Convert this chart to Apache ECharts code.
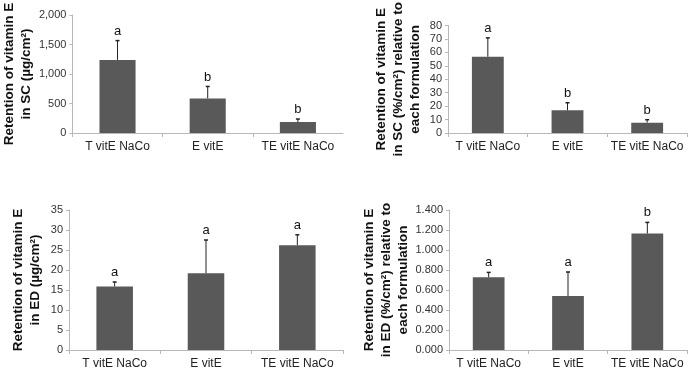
<!DOCTYPE html>
<html><head><meta charset="utf-8">
<script src="https://cdn.jsdelivr.net/npm/echarts@6/dist/echarts.min.js"></script>
<style>html,body{margin:0;padding:0;background:#fff}#c{width:688px;height:370px}</style>
</head><body><div id="c"></div>
<script>
const categories = ['T vitE NaCo', 'E vitE', 'TE vitE NaCo'];
const scMass = [1239, 586, 186];
const scMassErr = [327, 203, 51];
const scMassLetters = ['a', 'b', 'b'];
const scPct = [56.8, 16.9, 7.7];
const scPctErr = [14.0, 5.6, 2.2];
const scPctLetters = ['a', 'b', 'b'];
const edMass = [15.9, 19.2, 26.2];
const edMassErr = [1.1, 8.3, 2.6];
const edMassLetters = ['a', 'a', 'a'];
const edPct = [0.727, 0.541, 1.165];
const edPctErr = [0.049, 0.239, 0.111];
const edPctLetters = ['a', 'a', 'b'];

const FONT = 'Liberation Sans, Arial, sans-serif';
const panels = [
  {vals: scMass, errs: scMassErr, letters: scMassLetters, max: 2000, interval: 500,
   fmt: v => v.toLocaleString('en-US'), name: 'Retention of vitamin E\nin SC (µg/cm²)',
   grid: {left: 69, right: 345, top: 15, bottom: 237}, gap: 37},
  {vals: scPct, errs: scPctErr, letters: scPctLetters, max: 80, interval: 10,
   fmt: v => String(v), name: 'Retention of vitamin E\nin SC (%/cm²) relative to\neach formulation',
   grid: {left: 448, right: 1, top: 15, bottom: 237}, gap: 24},
  {vals: edMass, errs: edMassErr, letters: edMassLetters, max: 35, interval: 5,
   fmt: v => String(v), name: 'Retention of vitamin E\nin ED (µg/cm²)',
   grid: {left: 69, right: 345, top: 210, bottom: 17}, gap: 25},
  {vals: edPct, errs: edPctErr, letters: edPctLetters, max: 1.4, interval: 0.2,
   fmt: v => v.toFixed(3), name: 'Retention of vitamin E\nin ED (%/cm²) relative to\neach formulation',
   grid: {left: 449, right: 1, top: 210, bottom: 17}, gap: 36}
];

const grid = [], xAxis = [], yAxis = [], series = [];
panels.forEach((p, i) => {
  grid.push(Object.assign({containLabel: false}, p.grid));
  xAxis.push({
    type: 'category', gridIndex: i, data: categories,
    axisLine: {lineStyle: {color: '#b8b8b8', width: 1}},
    axisTick: {show: true, length: 4, lineStyle: {color: '#b8b8b8'}},
    axisLabel: {color: '#222', fontSize: 12, fontFamily: FONT, margin: 8, interval: 0}
  });
  yAxis.push({
    type: 'value', gridIndex: i, min: 0, max: p.max, interval: p.interval,
    axisLine: {show: true, lineStyle: {color: '#b8b8b8', width: 1}},
    axisTick: {show: true, length: 3, lineStyle: {color: '#b8b8b8'}},
    axisLabel: {color: '#333', fontSize: 11, fontFamily: FONT, margin: 6, formatter: p.fmt},
    splitLine: {show: false},
    name: p.name, nameLocation: 'middle', nameRotate: 90, nameGap: p.gap,
    nameTextStyle: {color: '#111', fontSize: 13.5, fontWeight: 'bold', fontFamily: FONT, lineHeight: 17}
  });
  series.push({
    type: 'bar', xAxisIndex: i, yAxisIndex: i, data: p.vals, barWidth: '40%',
    itemStyle: {color: '#595959'}, silent: true, animation: false
  });
  series.push({
    type: 'custom', xAxisIndex: i, yAxisIndex: i, animation: false, silent: true, z: 5,
    data: p.vals.map((v, k) => [k, v, p.errs[k]]),
    renderItem: (params, api) => {
      const x = api.value(0), v = api.value(1), e = api.value(2);
      const p0 = api.coord([x, v]);
      const p1 = api.coord([x, v + e]);
      return {
        type: 'group',
        children: [
          {type: 'line', shape: {x1: p0[0], y1: p0[1], x2: p1[0], y2: p1[1]}, style: {stroke: '#222', lineWidth: 1}},
          {type: 'line', shape: {x1: p1[0] - 2, y1: p1[1], x2: p1[0] + 2, y2: p1[1]}, style: {stroke: '#222', lineWidth: 1.5}},
          {type: 'text', style: {x: p1[0], y: p1[1] - 3, text: p.letters[params.dataIndex], fill: '#111',
            font: '13px ' + FONT, align: 'center', verticalAlign: 'bottom'}}
        ]
      };
    }
  });
});

const chart = echarts.init(document.getElementById('c'), null, {renderer: 'canvas'});
chart.setOption({animation: false, backgroundColor: '#fff', grid, xAxis, yAxis, series});
</script></body></html>
